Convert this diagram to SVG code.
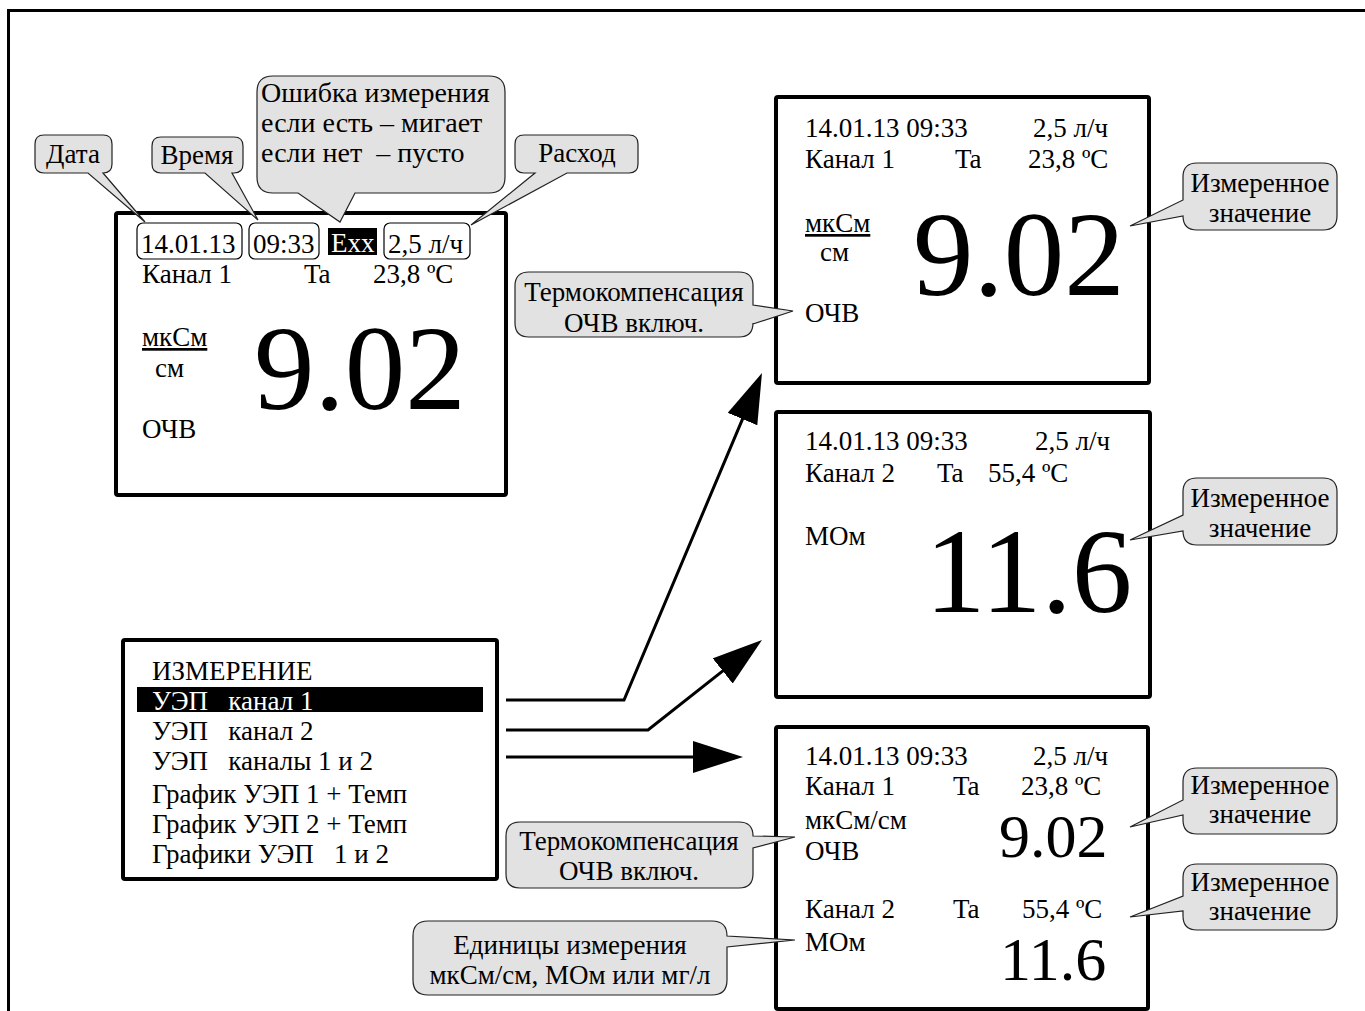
<svg xmlns="http://www.w3.org/2000/svg" width="1365" height="1011" viewBox="0 0 1365 1011" xml:space="preserve">
<style>
.t{font-family:"Liberation Serif","Times New Roman",serif;font-size:27px;fill:#000;white-space:pre}
.m{text-anchor:middle}
.w{fill:#fff}
.big{font-size:121px}
.mid{font-size:62px}
.e{font-size:28px}
.co{fill:#e2e2e2;stroke:#222;stroke-width:1.2}
.disp{fill:#fff;stroke:#000;stroke-width:4}
.lb{fill:#fff;stroke:#000;stroke-width:1.2}
.conn{fill:none;stroke:#000;stroke-width:3;marker-end:url(#ah)}
</style>
<defs>
<marker id="ah" viewBox="0 0 50 32" refX="30" refY="16" markerWidth="50" markerHeight="32" markerUnits="userSpaceOnUse" orient="auto">
<path d="M0,0 L50,16 L0,32 Z" fill="#000"/>
</marker>
</defs>
<rect width="1365" height="1011" fill="#fff"/>
<path id="frame" d="M8.5,1011 V10.5 H1365" fill="none" stroke="#000" stroke-width="3"/>

<g id="display1">
<rect class="disp" x="116" y="213" width="390" height="282" rx="2"/>
<rect class="lb" x="137" y="223" width="105" height="36" rx="6"/>
<rect class="lb" x="249" y="223" width="70" height="36" rx="6"/>
<rect x="328" y="228" width="49" height="27" fill="#000"/>
<rect class="lb" x="384" y="223" width="86" height="36" rx="6"/>
<text class="t" x="141" y="253">14.01.13</text>
<text class="t" x="253" y="253">09:33</text>
<text class="t w" x="331" y="252">Exx</text>
<text class="t" x="388" y="253">2,5 л/ч</text>
<text class="t" x="142" y="283">Канал 1</text>
<text class="t" x="304" y="283">Ta</text>
<text class="t" x="373" y="283">23,8 ºC</text>
<text class="t" x="142" y="346" text-decoration="underline">мкСм</text>
<text class="t" x="155" y="377">см</text>
<text class="t" x="142" y="438">ОЧВ</text>
<text class="t big" x="254" y="409">9.02</text>
</g>

<g id="display2">
<rect class="disp" x="776" y="97" width="373" height="286" rx="2"/>
<text class="t" x="805" y="137">14.01.13 09:33</text>
<text class="t" x="1033" y="137">2,5 л/ч</text>
<text class="t" x="805" y="168">Канал 1</text>
<text class="t" x="955" y="168">Ta</text>
<text class="t" x="1028" y="168">23,8 ºC</text>
<text class="t" x="805" y="232" text-decoration="underline">мкСм</text>
<text class="t" x="820" y="261">см</text>
<text class="t" x="805" y="322">ОЧВ</text>
<text class="t big" x="913" y="295">9.02</text>
</g>

<g id="display3">
<rect class="disp" x="776" y="412" width="374" height="285" rx="2"/>
<text class="t" x="805" y="450">14.01.13 09:33</text>
<text class="t" x="1035" y="450">2,5 л/ч</text>
<text class="t" x="805" y="482">Канал 2</text>
<text class="t" x="937" y="482">Ta</text>
<text class="t" x="988" y="482">55,4 ºC</text>
<text class="t" x="805" y="545">МОм</text>
<text class="t big" x="925" y="612">11.6</text>
</g>

<g id="display4">
<rect class="disp" x="776" y="727" width="372" height="282" rx="2"/>
<text class="t" x="805" y="765">14.01.13 09:33</text>
<text class="t" x="1033" y="765">2,5 л/ч</text>
<text class="t" x="805" y="795">Канал 1</text>
<text class="t" x="953" y="795">Ta</text>
<text class="t" x="1021" y="795">23,8 ºC</text>
<text class="t" x="805" y="829">мкСм/см</text>
<text class="t" x="805" y="860">ОЧВ</text>
<text class="t mid" x="999" y="857">9.02</text>
<text class="t" x="805" y="918">Канал 2</text>
<text class="t" x="953" y="918">Ta</text>
<text class="t" x="1022" y="918">55,4 ºC</text>
<text class="t" x="805" y="951">МОм</text>
<text class="t mid" x="1000" y="980">11.6</text>
</g>

<g id="menu">
<rect class="disp" x="123" y="640" width="374" height="239" rx="2"/>
<text class="t" x="152" y="680">ИЗМЕРЕНИЕ</text>
<rect x="137" y="687" width="346" height="25" fill="#000"/>
<text class="t w" x="152" y="710">УЭП   канал 1</text>
<text class="t" x="152" y="740">УЭП   канал 2</text>
<text class="t" x="152" y="770">УЭП   каналы 1 и 2</text>
<text class="t" x="152" y="803">График УЭП 1 + Темп</text>
<text class="t" x="152" y="833">График УЭП 2 + Темп</text>
<text class="t" x="152" y="863">Графики УЭП   1 и 2</text>
</g>

<g id="callout-date">
<path class="co" d="M44,135 H103 Q112,135 112,144 V164 Q112,173 103,173 L145,222 L88,173 H44 Q35,173 35,164 V144 Q35,135 44,135 Z"/>
<text class="t m" x="73" y="163">Дата</text>
</g>
<g id="callout-time">
<path class="co" d="M161,137 H234 Q243,137 243,146 V164 Q243,173 234,173 H232 L258,220 L205,173 H161 Q152,173 152,164 V146 Q152,137 161,137 Z"/>
<text class="t m" x="197" y="164">Время</text>
</g>
<g id="callout-error">
<path class="co" d="M273,76 H489 Q505,76 505,92 V177 Q505,193 489,193 H355 L340,222 L298,193 H273 Q257,193 257,177 V92 Q257,76 273,76 Z"/>
<text class="t e" x="261" y="102">Ошибка измерения</text>
<text class="t e" x="261" y="132">если есть – мигает</text>
<text class="t e" x="261" y="162">если нет  – пусто</text>
</g>
<g id="callout-flow">
<path class="co" d="M524,135 H629 Q638,135 638,144 V164 Q638,173 629,173 H567 L471,225 L535,173 H524 Q515,173 515,164 V144 Q515,135 524,135 Z"/>
<text class="t m" x="577" y="162">Расход</text>
</g>
<g id="callout-tc1">
<path class="co" d="M529,272 H739 Q753,272 753,286 V305 L793,311 L753,324 V323 Q753,337 739,337 H529 Q515,337 515,323 V286 Q515,272 529,272 Z"/>
<text class="t m" x="634" y="301">Термокомпенсация</text>
<text class="t m" x="634" y="332">ОЧВ включ.</text>
</g>
<g id="callout-val1">
<path class="co" d="M1197,163 H1323 Q1337,163 1337,177 V216 Q1337,230 1323,230 H1197 Q1183,230 1183,216 L1130,226 L1183,200 V177 Q1183,163 1197,163 Z"/>
<text class="t m" x="1260" y="192">Измеренное</text>
<text class="t m" x="1260" y="222">значение</text>
</g>
<g id="callout-val2">
<path class="co" d="M1197,478 H1323 Q1337,478 1337,492 V531 Q1337,545 1323,545 H1197 Q1183,545 1183,531 L1130,540 L1183,515 V492 Q1183,478 1197,478 Z"/>
<text class="t m" x="1260" y="507">Измеренное</text>
<text class="t m" x="1260" y="537">значение</text>
</g>
<g id="callout-val3">
<path class="co" d="M1197,768 H1323 Q1337,768 1337,782 V820 Q1337,834 1323,834 H1197 Q1183,834 1183,820 V815 L1130,827 L1183,800 V782 Q1183,768 1197,768 Z"/>
<text class="t m" x="1260" y="794">Измеренное</text>
<text class="t m" x="1260" y="823">значение</text>
</g>
<g id="callout-val4">
<path class="co" d="M1197,864 H1323 Q1337,864 1337,878 V916 Q1337,930 1323,930 H1197 Q1183,930 1183,916 V911 L1130,917 L1183,896 V878 Q1183,864 1197,864 Z"/>
<text class="t m" x="1260" y="891">Измеренное</text>
<text class="t m" x="1260" y="920">значение</text>
</g>
<g id="callout-tc2">
<path class="co" d="M520,822 H739 Q753,822 753,836 L795,837 L753,848 V874 Q753,888 739,888 H520 Q506,888 506,874 V836 Q506,822 520,822 Z"/>
<text class="t m" x="629" y="850">Термокомпенсация</text>
<text class="t m" x="629" y="880">ОЧВ включ.</text>
</g>
<g id="callout-units">
<path class="co" d="M428,921 H712 Q727,921 727,936 L795,940 L727,947 V980 Q727,995 712,995 H428 Q413,995 413,980 V936 Q413,921 428,921 Z"/>
<text class="t m" x="570" y="954">Единицы измерения</text>
<text class="t m" x="570" y="984">мкСм/см, МОм или мг/л</text>
</g>

<g id="connectors">
<path class="conn" d="M506,700 H624 L754.2,391.4"/>
<path class="conn" d="M506,730 H648 L746.3,652.4"/>
<path class="conn" d="M506,757 H723"/>
</g>
</svg>
